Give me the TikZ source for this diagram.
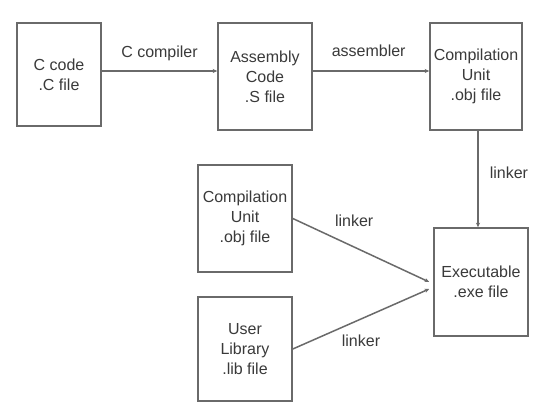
\documentclass[tikz,border=0pt]{standalone}
\usepackage{fontspec}
\setmainfont{Liberation Sans}
\usetikzlibrary{arrows.meta}
\definecolor{edge}{HTML}{6A6A6A}
\definecolor{ink}{HTML}{3A3A3A}
\begin{document}
\begin{tikzpicture}[x=1pt,y=-1pt,
  filebox/.style={draw=edge,line width=1.6pt,minimum width=#1,
    align=center,inner sep=0pt,text=ink,font=\fontsize{16}{20}\selectfont},
  flow/.style={draw=edge,line width=1.5pt,-{Stealth[length=4.5pt,width=4pt]}},
  lbl/.style={text=ink,font=\fontsize{16}{20}\selectfont,inner sep=0pt}]
  \path[use as bounding box,fill=white] (0,0) rectangle (560,403);

  % top row
  \node[filebox=84pt,minimum height=103pt] (cfile) at (59,74.5) {C code\\.C file};
  \node[filebox=94pt,minimum height=107pt] (sfile) at (265,76.5) {Assembly\\Code\\.S file};
  \node[filebox=92pt,minimum height=107pt] (objtop) at (476,76.5) {Compilation\\Unit\\.obj file};

  % lower inputs and result
  \node[filebox=94pt,minimum height=107pt] (objlow) at (245,218.5) {Compilation\\Unit\\.obj file};
  \node[filebox=94pt,minimum height=104pt] (lib) at (245,349) {User\\Library\\.lib file};
  \node[filebox=94pt,minimum height=108pt] (exe) at (481,282) {Executable\\.exe file};

  % connectors
  \draw[flow] ([yshift=3.5pt]cfile.east) -- ([yshift=5.5pt]sfile.west)
    node[lbl,pos=0.5,above=9pt] (l1) {C compiler};
  \draw[flow] ([yshift=5.5pt]sfile.east) -- ([yshift=5.5pt]objtop.west)
    node[lbl,pos=0.48,above=14pt] (l2) {assembler};
  \draw[flow] ([xshift=2pt]objtop.south) -- ([xshift=-3pt]exe.north)
    node[lbl,pos=0.44,right=11pt] (l3) {linker};
  \draw[flow] (objlow.east) -- ([xshift=-4pt]exe.west)
    node[lbl,pos=0.45,above=20pt] (l4) {linker};
  \draw[flow] (lib.east) -- ([xshift=-4pt,yshift=-7pt]exe.west)
    node[lbl,pos=0.5,below=15pt] (l5) {linker};
\end{tikzpicture}
\end{document}
